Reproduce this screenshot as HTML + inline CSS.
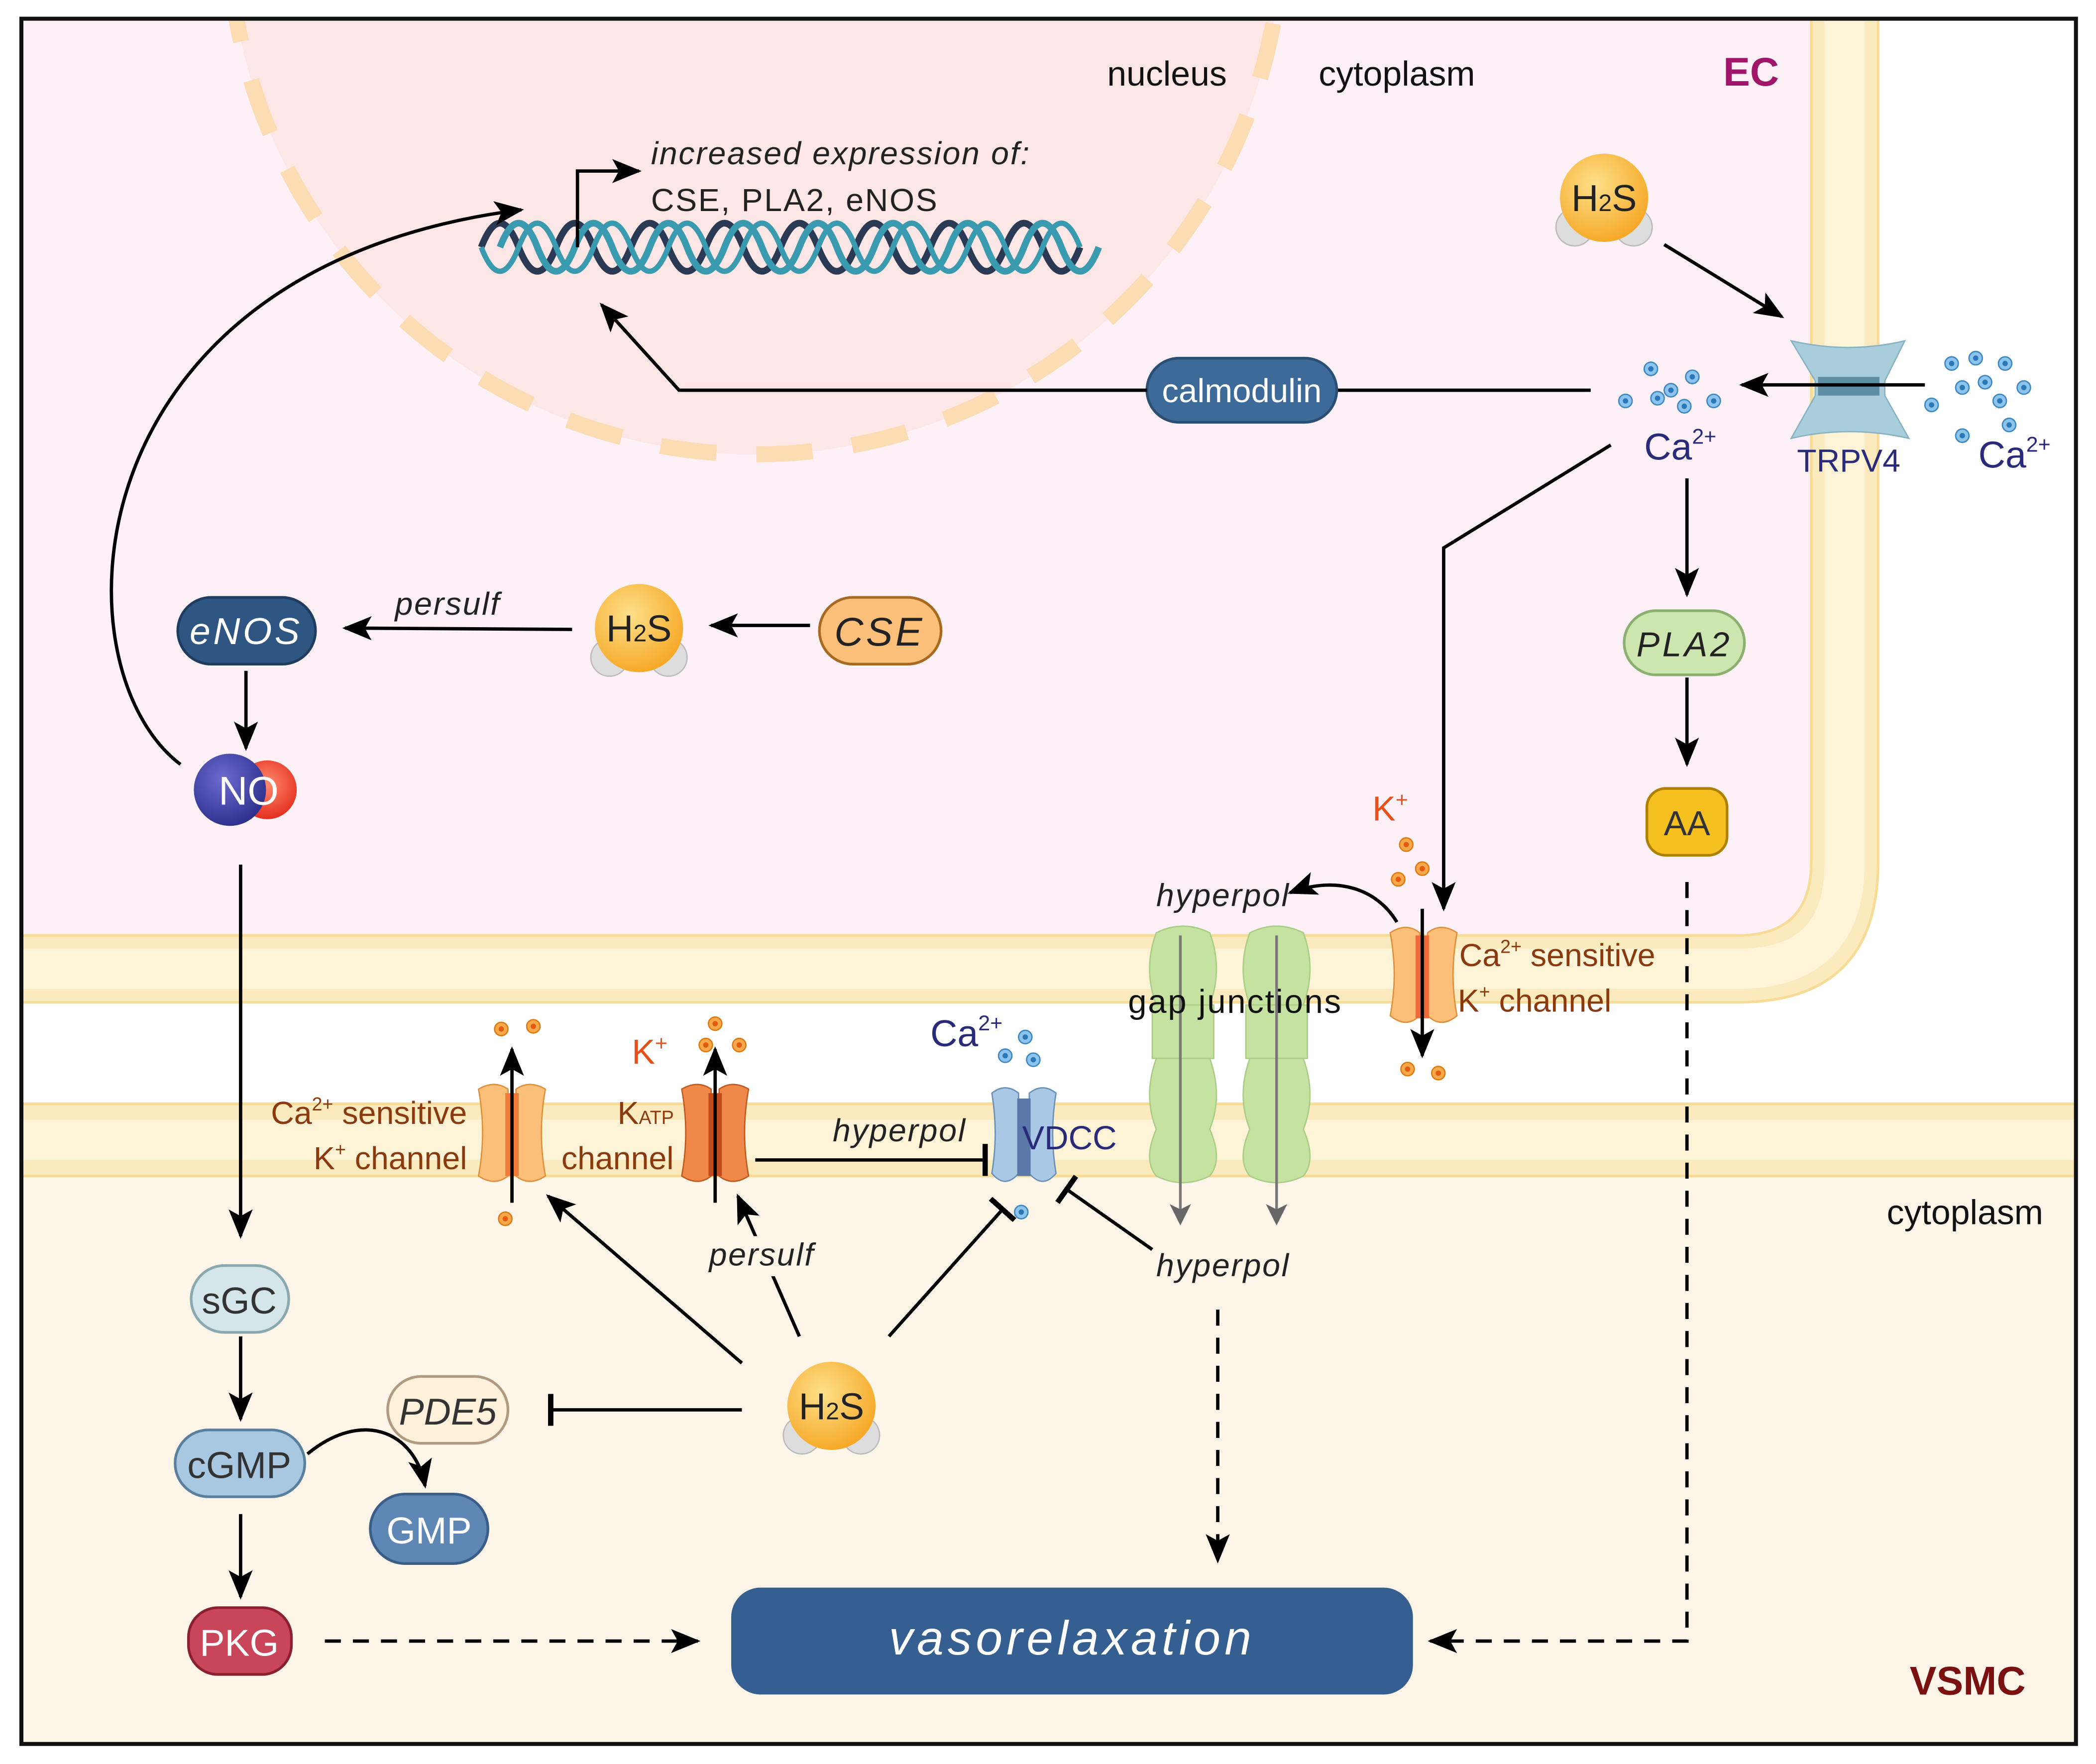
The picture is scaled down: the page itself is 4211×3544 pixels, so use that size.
<!DOCTYPE html>
<html><head><meta charset="utf-8"><style>
html,body{margin:0;padding:0;background:#fff}
svg{display:block}
text{font-family:"Liberation Sans",sans-serif}
</style></head><body>
<svg width="4211" height="3544" viewBox="0 0 1568 1320" preserveAspectRatio="none" xmlns="http://www.w3.org/2000/svg">
<defs>
<clipPath id="frame"><rect x="16" y="14" width="1537" height="1291"/></clipPath>
<marker id="ab" markerWidth="22" markerHeight="18" refX="20" refY="9" orient="auto" markerUnits="userSpaceOnUse" viewBox="0 0 22 18"><path d="M0,0 L22,9 L0,18 L5,9 Z" fill="#000"/></marker>
<marker id="ag" markerWidth="16" markerHeight="16" refX="14" refY="8" orient="auto" markerUnits="userSpaceOnUse" viewBox="0 0 16 16"><path d="M0,0 L16,8 L0,16 L4,8 Z" fill="#666"/></marker>
<marker id="t" markerWidth="4" markerHeight="24" refX="2" refY="12" orient="auto" markerUnits="userSpaceOnUse" viewBox="0 0 4 24"><rect x="0" y="0" width="4" height="24" fill="#000"/></marker>
<radialGradient id="h2s" cx="0.4" cy="0.35" r="0.7"><stop offset="0" stop-color="#fde08a"/><stop offset="1" stop-color="#f6a623"/></radialGradient>
<radialGradient id="nob" cx="0.4" cy="0.35" r="0.7"><stop offset="0" stop-color="#6e6ad0"/><stop offset="1" stop-color="#2a2f8a"/></radialGradient>
<radialGradient id="nor" cx="0.5" cy="0.4" r="0.7"><stop offset="0" stop-color="#ff8a70"/><stop offset="1" stop-color="#e02010"/></radialGradient>
<g id="H2S"><circle cx="-22" cy="22" r="14" fill="#ddd" stroke="#bbb"/><circle cx="22" cy="22" r="14" fill="#ddd" stroke="#bbb"/><circle r="33" fill="url(#h2s)"/><text x="0" y="10" font-size="28" text-anchor="middle" fill="#222">H<tspan font-size="18">2</tspan>S</text></g>
<g id="dotO"><circle r="5" fill="#f5a94a" stroke="#e07a10" stroke-width="1"/><circle r="2" fill="#e45a10"/></g>
<g id="dotB"><circle r="5" fill="#8cc4ec" stroke="#3c88c4" stroke-width="1"/><circle r="2" fill="#2a78b8"/></g>
</defs>

<rect x="16" y="14" width="1537" height="1291" fill="#fdf5e8"/>
<rect x="16" y="14" width="1537" height="812" fill="#fff"/>
<path d="M16,14 H1380 V640 Q1380,725 1300,725 H16 Z" fill="#fdf0f6"/>
<g clip-path="url(#frame)">
<circle cx="565" cy="-54" r="394" fill="#fde6e6"/>
<circle cx="565" cy="-54" r="394" fill="none" stroke="#fcdcb2" stroke-width="12" stroke-dasharray="42,30"/>
</g>
<path d="M16,725 H1300 Q1380,725 1380,645 V14" fill="none" stroke="#fbeabd" stroke-width="52"/>
<path d="M16,725 H1300 Q1380,725 1380,645 V14" fill="none" stroke="#fdf4d8" stroke-width="30"/>
<path d="M16,700 H1300 Q1355,700 1355,645 V14" fill="none" stroke="#f7dc98" stroke-width="2"/>
<path d="M16,750 H1300 Q1405,750 1405,645 V14" fill="none" stroke="#f7dc98" stroke-width="2"/>
<rect x="16" y="826" width="1537" height="54" fill="#fbeabd"/>
<rect x="16" y="838" width="1537" height="30" fill="#fdf4d8"/>
<line x1="16" y1="826" x2="1553" y2="826" stroke="#f7dc98" stroke-width="2"/>
<line x1="16" y1="880" x2="1553" y2="880" stroke="#f7dc98" stroke-width="2"/>
<rect x="16" y="14" width="1537" height="1291" fill="none" stroke="#111" stroke-width="3"/>

<text x="873" y="64" font-size="26" text-anchor="middle" fill="#111">nucleus</text>
<text x="1045" y="64" font-size="26" text-anchor="middle" fill="#111">cytoplasm</text>
<text x="1310" y="64" font-size="30" font-weight="bold" text-anchor="middle" fill="#a0156a">EC</text>
<text x="487" y="123" font-size="24" font-style="italic" fill="#222" letter-spacing="1">increased expression of:</text>
<text x="487" y="158" font-size="24" fill="#222" letter-spacing="1">CSE, PLA2, eNOS</text>
<path d="M360,200 q14,-36 28,0 t28,0 t28,0 t28,0 t28,0 t28,0 t28,0 t28,0 t28,0 t28,0 t28,0 t28,0 t28,0 t28,0 t28,0 t28,0" transform="translate(0,-15)" fill="none" stroke="#2a3954" stroke-width="5"/>
<path d="M374,200 q14,-36 28,0 t28,0 t28,0 t28,0 t28,0 t28,0 t28,0 t28,0 t28,0 t28,0 t28,0 t28,0 t28,0 t28,0 t28,0 t28,0" transform="translate(0,-15)" fill="none" stroke="#3a9ab0" stroke-width="5"/>
<path d="M360,215 q14,-36 28,0 t28,0 t28,0 t28,0 t28,0 t28,0 t28,0 t28,0 t28,0 t28,0 t28,0 t28,0 t28,0 t28,0 t28,0 t28,0" transform="matrix(1,0,0,-1,0,400)" fill="none" stroke="#3a9ab0" stroke-width="4"/>
<polyline points="432,185 432,128 478,128" fill="none" stroke="#000" stroke-width="2.5" marker-end="url(#ab)"/>

<use href="#H2S" x="1200" y="148"/>
<line x1="1245" y1="183" x2="1333" y2="237" stroke="#000" stroke-width="2.5" marker-end="url(#ab)"/>
<path d="M1340,255 Q1383,265 1425,255 L1410,285 L1410,296 L1428,328 Q1383,318 1340,328 L1358,296 L1358,285 Z" fill="#a9cdda" stroke="#86b3c4"/>
<rect x="1360" y="282" width="46" height="14" fill="#5f8fa4"/>
<text x="1383" y="353" font-size="24" text-anchor="middle" fill="#2a2a7a">TRPV4</text>
<g><use href="#dotB" x="1460" y="272"/><use href="#dotB" x="1478" y="268"/><use href="#dotB" x="1500" y="272"/><use href="#dotB" x="1445" y="303"/><use href="#dotB" x="1468" y="290"/><use href="#dotB" x="1485" y="286"/><use href="#dotB" x="1514" y="290"/><use href="#dotB" x="1496" y="300"/><use href="#dotB" x="1503" y="318"/><use href="#dotB" x="1468" y="326"/></g>
<text x="1480" y="350" font-size="28" fill="#2a2a7a">Ca<tspan font-size="16" dy="-12">2+</tspan></text>
<line x1="1440" y1="288" x2="1303" y2="288" stroke="#000" stroke-width="2.5" marker-end="url(#ab)"/>
<g><use href="#dotB" x="1235" y="276"/><use href="#dotB" x="1266" y="282"/><use href="#dotB" x="1250" y="292"/><use href="#dotB" x="1216" y="300"/><use href="#dotB" x="1240" y="298"/><use href="#dotB" x="1260" y="304"/><use href="#dotB" x="1282" y="300"/></g>
<text x="1230" y="344" font-size="28" fill="#2a2a7a">Ca<tspan font-size="16" dy="-12">2+</tspan></text>
<line x1="1190" y1="292" x2="1000" y2="292" stroke="#000" stroke-width="2.5"/>
<rect x="858" y="268" width="142" height="48" rx="24" fill="#3d6a98" stroke="#2a4e74" stroke-width="2"/>
<text x="929" y="301" font-size="25" text-anchor="middle" fill="#fff">calmodulin</text>
<polyline points="858,292 508,292 450,228" fill="none" stroke="#000" stroke-width="2.5" marker-end="url(#ab)"/>
<polyline points="1205,333 1080,410 1080,680" fill="none" stroke="#000" stroke-width="2.5" marker-end="url(#ab)"/>
<line x1="1262" y1="358" x2="1262" y2="445" stroke="#000" stroke-width="2.5" marker-end="url(#ab)"/>
<rect x="1215" y="457" width="90" height="48" rx="24" fill="#cde6b0" stroke="#8cb070" stroke-width="2"/>
<text x="1260" y="491" font-size="26" font-style="italic" text-anchor="middle" fill="#222" letter-spacing="2">PLA2</text>
<line x1="1262" y1="507" x2="1262" y2="572" stroke="#000" stroke-width="2.5" marker-end="url(#ab)"/>
<rect x="1232" y="590" width="60" height="50" rx="14" fill="#f5c020" stroke="#b08000" stroke-width="2"/>
<text x="1262" y="625" font-size="26" text-anchor="middle" fill="#333">AA</text>
<polyline points="1262,660 1262,1228 1070,1228" fill="none" stroke="#000" stroke-width="2.5" stroke-dasharray="12,9" marker-end="url(#ab)"/>

<rect x="133" y="447" width="103" height="50" rx="25" fill="#2f5683" stroke="#1f3d60" stroke-width="2"/>
<text x="184" y="482" font-size="28" font-style="italic" text-anchor="middle" fill="#fff" letter-spacing="2">eNOS</text>
<use href="#H2S" x="478" y="470"/>
<rect x="613" y="447" width="91" height="50" rx="25" fill="#fbbf7a" stroke="#a86a20" stroke-width="2"/>
<text x="658" y="483" font-size="30" font-style="italic" text-anchor="middle" fill="#222" letter-spacing="2">CSE</text>
<line x1="606" y1="468" x2="532" y2="468" stroke="#000" stroke-width="2.5" marker-end="url(#ab)"/>
<line x1="428" y1="471" x2="258" y2="470" stroke="#000" stroke-width="2.5" marker-end="url(#ab)"/>
<text x="335" y="460" font-size="24" font-style="italic" text-anchor="middle" fill="#222" letter-spacing="1">persulf</text>
<line x1="184" y1="502" x2="184" y2="560" stroke="#000" stroke-width="2.5" marker-end="url(#ab)"/>
<circle cx="200" cy="591" r="22" fill="url(#nor)"/>
<circle cx="172" cy="591" r="27" fill="url(#nob)"/>
<text x="186" y="602" font-size="30" text-anchor="middle" fill="#fff">NO</text>
<path d="M135,572 C40,500 50,200 390,157" fill="none" stroke="#000" stroke-width="2.5" marker-end="url(#ab)"/>
<line x1="180" y1="647" x2="180" y2="925" stroke="#000" stroke-width="2.5" marker-end="url(#ab)"/>

<rect x="143" y="947" width="73" height="50" rx="25" fill="#d5e6ea" stroke="#8aa8b0" stroke-width="2"/>
<text x="179" y="983" font-size="28" text-anchor="middle" fill="#333">sGC</text>
<line x1="180" y1="1000" x2="180" y2="1062" stroke="#000" stroke-width="2.5" marker-end="url(#ab)"/>
<rect x="131" y="1070" width="97" height="50" rx="25" fill="#a8c8e2" stroke="#5a80a0" stroke-width="2"/>
<text x="179" y="1106" font-size="28" text-anchor="middle" fill="#333">cGMP</text>
<path d="M230,1088 C270,1055 310,1070 318,1112" fill="none" stroke="#000" stroke-width="2.5" marker-end="url(#ab)"/>
<rect x="277" y="1118" width="88" height="52" rx="26" fill="#5f87b5" stroke="#3a5e88" stroke-width="2"/>
<text x="321" y="1155" font-size="28" text-anchor="middle" fill="#fff">GMP</text>
<rect x="290" y="1030" width="90" height="50" rx="25" fill="#fdf1dc" stroke="#b09a80" stroke-width="2"/>
<text x="335" y="1066" font-size="28" font-style="italic" text-anchor="middle" fill="#333">PDE5</text>
<line x1="180" y1="1133" x2="180" y2="1195" stroke="#000" stroke-width="2.5" marker-end="url(#ab)"/>
<rect x="141" y="1203" width="77" height="50" rx="22" fill="#c9455a" stroke="#8a2030" stroke-width="2"/>
<text x="179" y="1239" font-size="28" text-anchor="middle" fill="#fff">PKG</text>
<line x1="243" y1="1228" x2="522" y2="1228" stroke="#000" stroke-width="2.5" stroke-dasharray="12,9" marker-end="url(#ab)"/>
<rect x="547" y="1188" width="510" height="80" rx="22" fill="#355f90"/>
<text x="802" y="1238" font-size="36" font-style="italic" text-anchor="middle" fill="#fff" letter-spacing="3">vasorelaxation</text>
<line x1="911" y1="980" x2="911" y2="1168" stroke="#000" stroke-width="2.5" stroke-dasharray="12,9" marker-end="url(#ab)"/>

<use href="#H2S" x="622" y="1052"/>
<line x1="555" y1="1055" x2="412" y2="1055" stroke="#000" stroke-width="2.5" marker-end="url(#t)"/>
<line x1="555" y1="1020" x2="410" y2="895" stroke="#000" stroke-width="2.5" marker-end="url(#ab)"/>
<line x1="598" y1="1000" x2="552" y2="895" stroke="#000" stroke-width="2.5" marker-end="url(#ab)"/>
<rect x="530" y="925" width="82" height="30" fill="#fdf5e8"/>
<text x="570" y="947" font-size="24" font-style="italic" text-anchor="middle" fill="#222" letter-spacing="1">persulf</text>
<line x1="665" y1="1000" x2="750" y2="905" stroke="#000" stroke-width="2.5" marker-end="url(#t)"/>
<line x1="862" y1="935" x2="798" y2="890" stroke="#000" stroke-width="2.5" marker-end="url(#t)"/>
<text x="915" y="955" font-size="24" font-style="italic" text-anchor="middle" fill="#222" letter-spacing="1">hyperpol</text>

<path d="M358,815 Q370,808 380,815 V880 Q370,888 358,880 Q364,848 358,815Z" fill="#fbbf7a" stroke="#e0903a"/>
<path d="M386,815 Q396,808 408,815 Q402,848 408,880 Q396,888 386,880Z" fill="#fbbf7a" stroke="#e0903a"/>
<rect x="378" y="818" width="10" height="62" fill="#ef7a3a"/>
<line x1="383" y1="900" x2="383" y2="785" stroke="#000" stroke-width="2.5" marker-end="url(#ab)"/>
<use href="#dotO" x="375" y="770"/><use href="#dotO" x="399" y="768"/><use href="#dotO" x="378" y="912"/>
<path d="M510,815 Q522,808 532,815 V880 Q522,888 510,880 Q516,848 510,815Z" fill="#f0884a" stroke="#c05a20"/>
<path d="M538,815 Q548,808 560,815 Q554,848 560,880 Q548,888 538,880Z" fill="#f0884a" stroke="#c05a20"/>
<rect x="530" y="818" width="10" height="62" fill="#c04a1a"/>
<line x1="535" y1="900" x2="535" y2="785" stroke="#000" stroke-width="2.5" marker-end="url(#ab)"/>
<use href="#dotO" x="535" y="766"/><use href="#dotO" x="528" y="782"/><use href="#dotO" x="553" y="782"/>
<text x="276" y="841" font-size="24" text-anchor="middle" fill="#8b3a0f">Ca<tspan font-size="14" dy="-10">2+</tspan><tspan dy="10"> sensitive</tspan></text>
<text x="292" y="875" font-size="24" text-anchor="middle" fill="#8b3a0f">K<tspan font-size="14" dy="-10">+</tspan><tspan dy="10"> channel</tspan></text>
<text x="486" y="796" font-size="26" text-anchor="middle" fill="#e8501a">K<tspan font-size="16" dy="-10">+</tspan></text>
<text x="483" y="841" font-size="24" text-anchor="middle" fill="#8b3a0f">K<tspan font-size="14">ATP</tspan></text>
<text x="462" y="875" font-size="24" text-anchor="middle" fill="#8b3a0f">channel</text>
<line x1="565" y1="868" x2="737" y2="868" stroke="#000" stroke-width="2.5" marker-end="url(#t)"/>
<text x="673" y="854" font-size="24" font-style="italic" text-anchor="middle" fill="#222" letter-spacing="1">hyperpol</text>
<path d="M742,818 Q752,810 762,818 V878 Q752,890 742,878 Q747,848 742,818Z" fill="#a8c8e6" stroke="#6a90b8"/>
<path d="M770,818 Q780,810 790,818 Q785,848 790,878 Q780,890 770,878Z" fill="#a8c8e6" stroke="#6a90b8"/>
<rect x="761" y="822" width="10" height="58" fill="#5a78a8"/>
<use href="#dotB" x="752" y="790"/><use href="#dotB" x="767" y="776"/><use href="#dotB" x="773" y="793"/><use href="#dotB" x="764" y="907"/>
<text x="723" y="783" font-size="28" text-anchor="middle" fill="#2a2a7a">Ca<tspan font-size="16" dy="-12">2+</tspan></text>
<text x="800" y="860" font-size="25" text-anchor="middle" fill="#2a2a7a">VDCC</text>

<path d="M865,698 Q885,688 905,698 Q915,725 905,752 Q885,760 865,752 Q855,725 865,698Z" fill="#c6e2a0" stroke="#aacd86"/>
<path d="M865,792 Q885,782 905,792 Q915,820 905,845 Q915,868 905,880 Q885,890 865,880 Q855,868 865,845 Q855,820 865,792Z" fill="#c6e2a0" stroke="#aacd86"/>
<path d="M935,698 Q955,688 975,698 Q985,725 975,752 Q955,760 935,752 Q925,725 935,698Z" fill="#c6e2a0" stroke="#aacd86"/>
<path d="M935,792 Q955,782 975,792 Q985,820 975,845 Q985,868 975,880 Q955,890 935,880 Q925,868 935,845 Q925,820 935,792Z" fill="#c6e2a0" stroke="#aacd86"/>
<rect x="862" y="752" width="46" height="40" fill="#c6e2a0" stroke="#aacd86"/>
<rect x="932" y="752" width="46" height="40" fill="#c6e2a0" stroke="#aacd86"/>
<line x1="883" y1="700" x2="883" y2="915" stroke="#777" stroke-width="2" marker-end="url(#ag)"/>
<line x1="955" y1="700" x2="955" y2="915" stroke="#777" stroke-width="2" marker-end="url(#ag)"/>
<text x="924" y="758" font-size="25" text-anchor="middle" fill="#111" letter-spacing="1">gap junctions</text>
<text x="915" y="678" font-size="24" font-style="italic" text-anchor="middle" fill="#222" letter-spacing="1">hyperpol</text>
<path d="M1045,690 C1030,665 1000,655 965,668" fill="none" stroke="#000" stroke-width="2.5" marker-end="url(#ab)"/>

<path d="M1040,698 Q1052,690 1062,698 V760 Q1052,770 1040,760 Q1046,730 1040,698Z" fill="#fbbf7a" stroke="#e0903a"/>
<path d="M1068,698 Q1078,690 1090,698 Q1084,730 1090,760 Q1078,770 1068,760Z" fill="#fbbf7a" stroke="#e0903a"/>
<rect x="1059" y="700" width="10" height="62" fill="#ef6a3a"/>
<line x1="1064" y1="680" x2="1064" y2="790" stroke="#000" stroke-width="2.5" marker-end="url(#ab)"/>
<use href="#dotO" x="1052" y="632"/><use href="#dotO" x="1046" y="658"/><use href="#dotO" x="1064" y="650"/><use href="#dotO" x="1053" y="800"/><use href="#dotO" x="1076" y="803"/>
<text x="1040" y="614" font-size="26" text-anchor="middle" fill="#e8501a">K<tspan font-size="16" dy="-10">+</tspan></text>
<text x="1165" y="723" font-size="24" text-anchor="middle" fill="#8b3a0f">Ca<tspan font-size="14" dy="-10">2+</tspan><tspan dy="10"> sensitive</tspan></text>
<text x="1148" y="757" font-size="24" text-anchor="middle" fill="#8b3a0f">K<tspan font-size="14" dy="-10">+</tspan><tspan dy="10"> channel</tspan></text>

<text x="1470" y="916" font-size="26" text-anchor="middle" fill="#111">cytoplasm</text>
<text x="1472" y="1268" font-size="30" font-weight="bold" text-anchor="middle" fill="#7a1010">VSMC</text>
</svg>
</body></html>
